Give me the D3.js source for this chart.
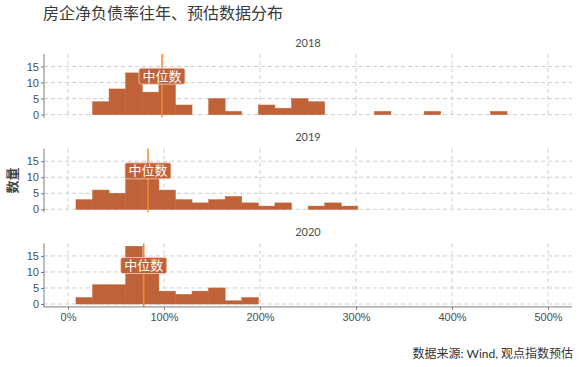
<!DOCTYPE html>
<html>
<head>
<meta charset="utf-8">
<script src="https://cdn.jsdelivr.net/npm/d3@7"></script>
<style>
  body { margin: 0; background: #fff; }
  svg { font-family: "Lato", "Noto Sans CJK SC", sans-serif; }
  .grid line { stroke: #cfcfcf; stroke-dasharray: 4,3; }
  .axis path, .axis line { stroke: #7a7a7a; }
  .axis text { fill: #4d4d4d; font-size: 11px; }
</style>
</head>
<body>
<svg id="chart" width="580" height="367"></svg>
<script>
// histogram data (净负债率, %)
var years = ["2018", "2019", "2020"];
var binEdges = [8.3, 25.6, 42.8, 60.1, 77.4, 94.7, 111.9, 129.2, 146.5, 163.7, 181.0,
  198.3, 215.5, 232.8, 250.1, 267.4, 284.6, 301.9, 319.2, 336.4, 353.7, 371.0,
  388.2, 405.5, 422.8, 440.1, 457.3];
var counts2018 = [0, 4, 8, 13, 7, 10, 3, 0, 5, 1, 0, 3, 2, 5, 4, 0, 0, 0, 1, 0, 0, 1, 0, 0, 0, 1];
var counts2019 = [3, 6, 5, 10, 10, 6, 3, 2, 3, 4, 2, 1, 2, 0, 1, 2, 1, 0, 0, 0, 0, 0, 0, 0, 0, 0];
var counts2020 = [2, 6, 6, 18, 12, 4, 3, 4, 5, 1, 2, 0, 0, 0, 0, 0, 0, 0, 0, 0, 0, 0, 0, 0, 0, 0];
var medians = [97.9, 83.3, 78.9];
var xTicks = [0, 100, 200, 300, 400, 500];
var yTicks = [0, 5, 10, 15];

var allCounts = [counts2018, counts2019, counts2020];

var svg = d3.select("#chart");

var margin = { top: 54, left: 44, right: 8 };
var panelH = 63.5;
var panelGap = 31.2;
var width = 580 - margin.left - margin.right;

var x = d3.scaleLinear()
  .domain([-25, 525])
  .range([0, width]);

var y = d3.scaleLinear()
  .domain([-0.9, 18.9])
  .range([panelH, 0]);

// title
svg.append("text")
  .attr("x", 43)
  .attr("y", 19)
  .style("font-size", "16px")
  .style("fill", "#3a3a3a")
  .text("房企净负债率往年、预估数据分布");

for (let i = 0; i < years.length; i++) {
  let top = margin.top + i * (panelH + panelGap);
  let plot = svg.append("g")
    .attr("transform", "translate(" + margin.left + "," + top + ")");

  // strip label
  plot.append("text")
    .attr("x", width / 2)
    .attr("y", -7.5)
    .style("text-anchor", "middle")
    .style("font-size", "11px")
    .style("fill", "#4d4d4d")
    .text(years[i]);

  // grid
  let grid = plot.append("g").attr("class", "grid");
  grid.selectAll("line.h").data(yTicks).enter().append("line")
    .attr("x1", 0).attr("x2", width)
    .attr("y1", d => y(d)).attr("y2", d => y(d));
  grid.selectAll("line.v").data(xTicks).enter().append("line")
    .attr("x1", d => x(d)).attr("x2", d => x(d))
    .attr("y1", 0).attr("y2", panelH);

  // bars
  let bins = [];
  for (let k = 0; k < allCounts[i].length; k++) {
    if (allCounts[i][k] > 0) {
      bins.push({ x0: binEdges[k], x1: binEdges[k + 1], n: allCounts[i][k] });
    }
  }
  plot.selectAll("rect.bar").data(bins).enter().append("rect")
    .attr("class", "bar")
    .attr("x", d => x(d.x0))
    .attr("width", d => x(d.x1) - x(d.x0))
    .attr("y", d => y(d.n))
    .attr("height", d => y(0) - y(d.n))
    .attr("fill", "#bf6238")
    .attr("stroke", "#bf6238")
    .attr("stroke-width", 0.5);

  // median line
  plot.append("line")
    .attr("x1", x(medians[i])).attr("x2", x(medians[i]))
    .attr("y1", 0).attr("y2", panelH)
    .attr("stroke", "#f28a2e")
    .attr("stroke-width", 1.5);

  // median label
  let lab = plot.append("g")
    .attr("transform", "translate(" + x(medians[i]) + "," + y(12) + ")");
  lab.append("rect")
    .attr("x", -23).attr("y", -8)
    .attr("width", 46).attr("height", 16)
    .attr("rx", 2)
    .attr("fill", "#bf6238")
    .attr("stroke", "#f1d2c3")
    .attr("stroke-width", 0.8);
  lab.append("text")
    .attr("y", 4.6)
    .style("text-anchor", "middle")
    .style("font-size", "13px")
    .style("fill", "#fff")
    .text("中位数");

  // y axis
  let yAxis = d3.axisLeft(y).tickValues(yTicks).tickSize(3).tickPadding(2);
  let yGroup = plot.append("g").attr("class", "axis").call(yAxis);
  yGroup.select("path.domain").attr("d", "M0,0V" + panelH);

  // x axis on the last panel
  if (i == years.length - 1) {
    let xAxis = d3.axisBottom(x).tickValues(xTicks).tickSize(3).tickPadding(3)
      .tickFormat(d => d + "%");
    let xGroup = plot.append("g").attr("class", "axis")
      .attr("transform", "translate(0," + panelH + ")")
      .call(xAxis);
    xGroup.select("path.domain").attr("d", "M0,0H" + width);
  }
}

// y axis title
svg.append("text")
  .attr("transform", "translate(17," + (margin.top + (3 * panelH + 2 * panelGap) / 2) + ") rotate(-90)")
  .style("text-anchor", "middle")
  .style("font-size", "13px")
  .style("font-weight", "bold")
  .style("fill", "#444")
  .text("数量");

// source
svg.append("text")
  .attr("x", 573)
  .attr("y", 358)
  .style("text-anchor", "end")
  .style("font-size", "12px")
  .style("fill", "#333")
  .text("数据来源: Wind, 观点指数预估");
</script>
</body>
</html>
